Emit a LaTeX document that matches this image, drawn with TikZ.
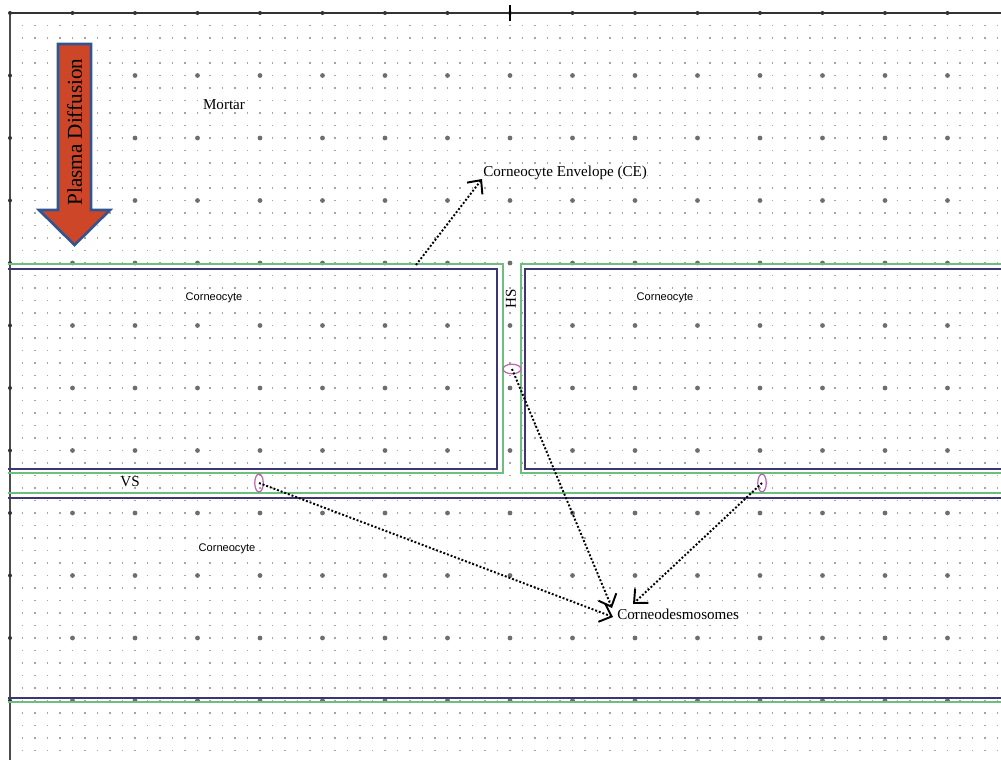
\documentclass[tikz,border=0pt]{standalone}
\usepackage{fontspec}
\setmainfont{Liberation Serif}
\setsansfont{Liberation Sans}
\usetikzlibrary{arrows.meta, positioning, shapes.geometric, calc}
\definecolor{envgreen}{RGB}{110,190,130}
\definecolor{cellblue}{RGB}{60,55,115}
\definecolor{dotgray}{RGB}{165,165,165}
\definecolor{majgray}{RGB}{110,110,110}
\definecolor{plasmared}{RGB}{205,70,40}
\definecolor{plasmablue}{RGB}{50,85,145}
\definecolor{desmopink}{RGB}{190,100,175}

\begin{document}
\begin{tikzpicture}[x=0.02cm, y=-0.02cm,
      tag/.style={font=\fontsize{8.6}{10}\selectfont, inner sep=0pt},
      celltag/.style={font=\sffamily\fontsize{6.3}{8}\selectfont, inner sep=0pt},
      blueline/.style={draw=cellblue, line width=0.7pt},
      greenline/.style={draw=envgreen, line width=1.4pt},
      minordots/.style={dotgray, line width=0.8pt, dash pattern=on 0.8pt off 6.3131pt},
      desmo/.style={draw=desmopink, ellipse, line width=0.7pt, inner sep=0pt},
      pointer/.style={line width=1.1pt, dash pattern=on 1.1pt off 1.1pt,
                      -{Straight Barb[length=6pt, width=11pt, line width=1.1pt]}}
    ]
    \useasboundingbox (0,0) rectangle (1001,760);
    \fill[white] (0,0) rectangle (1001,760);

    % dot grid
    \foreach \j in {1,...,59}
      \draw[minordots] (9.3,{13+12.5*\j}) -- (1001,{13+12.5*\j});
    \foreach \i in {1,...,15}
      \foreach \j in {1,...,11}
        \fill[majgray] ({10+62.5*\i},{13+62.5*\j}) circle (2.4);

    % axes
    \draw[black!80, line width=0.6pt] (10,13) -- (1001,13);
    \draw[black!70, line width=0.8pt] (10,13) -- (10,760);
    \foreach \i in {0,...,15}
      \fill[black!80] ({10+62.5*\i},13) circle (2);
    \foreach \j in {1,...,11}
      \fill[black!80] (10,{13+62.5*\j}) circle (2);
    \draw[black, line width=0.6pt] (510,5) -- (510,21);

    % cells
    \draw[greenline] (8,264) -- (503,264) -- (503,473) -- (8,473);
    \draw[blueline] (8,269) -- (497,269) -- (497,469) -- (8,469);
    \draw[greenline] (1001,264) -- (521,264) -- (521,473) -- (1001,473);
    \draw[blueline] (1001,269) -- (525,269) -- (525,469) -- (1001,469);
    \draw[greenline] (8,493) -- (1001,493);
    \draw[blueline] (8,498) -- (1001,498);
    \draw[blueline] (8,698) -- (1001,698);
    \draw[greenline] (8,702) -- (1001,702);

    % plasma arrow
    \draw[plasmablue, line width=1.5pt, fill=plasmared, line join=miter]
      (58,44) -- (91,44) -- (91,210) -- (110,210) -- (74.5,245)
      -- (39,210) -- (58,210) -- cycle;
    \node[rotate=90, font=\fontsize{12}{14}\selectfont] (plasma) at (74.5,132) {Plasma Diffusion};

    % labels
    \node[tag] (mortar) at (224,105) {Mortar};
    \node[celltag] (cell1) at (214,298) {Corneocyte};
    \node[celltag] (cell2) at (665,298) {Corneocyte};
    \node[celltag] (cell3) at (227,549) {Corneocyte};
    \node[tag] (vs) at (130,482) {VS};
    \node[tag, rotate=90] (hs) at (511,299) {HS};

    % envelope pointer
    \coordinate (cefoot) at (416,265);
    \node[tag, anchor=west] (ce) at (483,173) {Corneocyte Envelope (CE)};
    \draw[pointer] (cefoot) -- ($(ce.west)+(-1,6)$);

    % corneodesmosomes
    \node[desmo, minimum width=0.36cm, minimum height=0.19cm] (dhs) at (512,369) {};
    \node[desmo, minimum width=0.17cm, minimum height=0.36cm] (dvl) at (259,483) {};
    \node[desmo, minimum width=0.17cm, minimum height=0.36cm] (dvr) at (762,483) {};
    \node[tag, anchor=west] (cd) at (617,614) {Corneodesmosomes};
    \draw[pointer] (dhs.center) -- ($(cd.west)+(-5,-6)$);
    \draw[pointer] (dvl.center) -- ($(cd.west)+(-4,3)$);
    \draw[pointer] (dvr.center) -- ($(cd.west)+(16,-10)$);
  \end{tikzpicture}
\end{document}
